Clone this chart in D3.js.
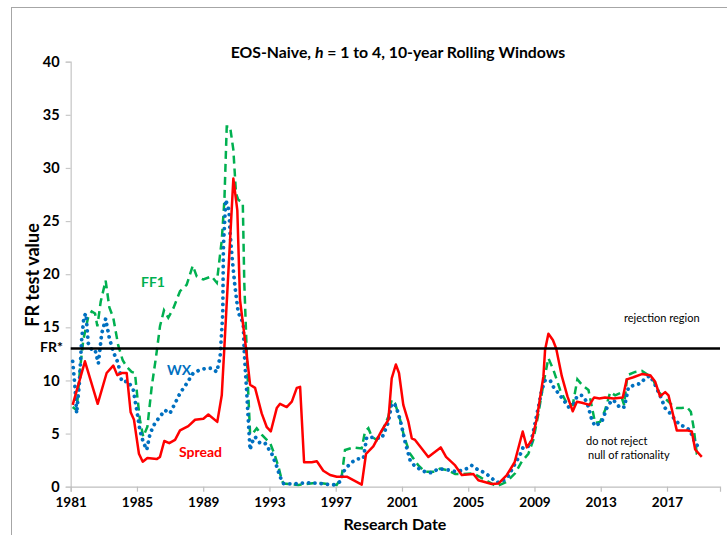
<!DOCTYPE html>
<html>
<head>
<meta charset="utf-8">
<script src="https://cdn.jsdelivr.net/npm/d3@7"></script>
<style>
  html, body { margin: 0; padding: 0; background: #fff; }
  svg { display: block; font-family: Lato, "Open Sans", sans-serif; }
</style>
</head>
<body>
<div id="vis"></div>
<script>
// data: decimal research date -> FR test value
var spreadDates = [1981.12, 1981.86, 1982.63, 1983.17, 1983.57, 1983.81, 1984.08, 1984.38, 1984.62, 1984.82,
  1985.12, 1985.35, 1985.63, 1986.19, 1986.39, 1986.65, 1986.95, 1987.30, 1987.60, 1988.10,
  1988.51, 1989.01, 1989.31, 1989.85, 1990.12, 1990.28, 1990.82, 1991.06, 1991.22, 1991.57,
  1991.83, 1992.13, 1992.53, 1992.84, 1993.08, 1993.44, 1993.64, 1994.04, 1994.35, 1994.65,
  1994.85, 1995.09, 1995.55, 1995.86, 1996.25, 1996.66, 1997.06, 1997.67, 1998.57, 1998.83,
  1999.27, 1999.78, 2000.18, 2000.38, 2000.63, 2000.82, 2001.08, 2001.39, 2001.59, 2001.79,
  2002.59, 2003.34, 2003.66, 2004.21, 2004.61, 2005.31, 2005.61, 2006.42, 2006.82, 2007.33,
  2007.80, 2008.29, 2008.54, 2008.84, 2009.14, 2009.54, 2009.64, 2009.84, 2010.11, 2010.31,
  2010.65, 2010.99, 2011.31, 2011.56, 2011.86, 2012.32, 2012.60, 2012.92, 2013.26, 2013.77,
  2014.33, 2014.57, 2014.97, 2015.48, 2015.98, 2016.28, 2016.58, 2016.89, 2017.09, 2017.59,
  2018.20, 2018.50, 2018.70, 2019.10];
var spreadValues = [7.7, 11.8, 7.8, 10.7, 11.4, 10.5, 10.7, 10.7, 7.0, 6.3,
  3.1, 2.35, 2.7, 2.6, 2.8, 4.3, 4.1, 4.4, 5.3, 5.7,
  6.3, 6.4, 6.8, 6.1, 8.6, 13.2, 29.0, 26.0, 17.6, 13.2,
  9.6, 9.3, 6.9, 5.6, 5.2, 7.4, 7.8, 7.5, 8.0, 9.3,
  9.4, 2.3, 2.3, 2.4, 1.5, 1.1, 0.94, 0.94, 0.2, 3.1,
  3.8, 5.3, 6.3, 10.2, 11.5, 10.7, 7.7, 6.1, 4.55, 4.4,
  2.8, 3.7, 2.8, 2.0, 1.1, 1.2, 0.6, 0.25, 0.3, 1.1,
  2.3, 5.2, 3.7, 4.4, 6.4, 10.4, 12.9, 14.4, 13.8, 13.0,
  10.4, 8.5, 7.1, 8.0, 7.9, 7.7, 8.4, 8.3, 8.4, 8.3,
  8.4, 10.1, 10.3, 10.6, 10.5, 9.9, 8.5, 8.9, 8.6, 5.3,
  5.3, 5.2, 3.5, 2.8];

var ff1Dates = [1981.12, 1981.36, 1981.56, 1981.76, 1982.06, 1982.27, 1982.47, 1982.61, 1982.81, 1983.11,
  1983.33, 1983.57, 1983.87, 1984.14, 1984.38, 1984.68, 1984.88, 1985.02, 1985.18, 1985.38,
  1985.63, 1985.89, 1986.15, 1986.39, 1986.63, 1986.89, 1987.20, 1987.60, 1988.00, 1988.37,
  1988.61, 1989.01, 1989.51, 1989.82, 1990.12, 1990.28, 1990.42, 1990.62, 1990.82, 1990.98,
  1991.12, 1991.39, 1991.48, 1991.63, 1991.72, 1991.83, 1991.93, 1992.23, 1992.53, 1993.04,
  1993.29, 1993.54, 1993.74, 1993.84, 1994.74, 1995.86, 1997.06, 1997.36, 1997.56, 1998.07,
  1998.57, 1998.77, 1998.97, 1999.18, 1999.48, 1999.88, 2000.18, 2000.38, 2000.58, 2000.89,
  2001.13, 2001.49, 2001.99, 2002.40, 2002.90, 2003.30, 2003.71, 2004.21, 2004.71, 2005.31,
  2005.82, 2006.42, 2006.70, 2007.33, 2007.83, 2008.23, 2008.63, 2008.93, 2009.24, 2009.54,
  2009.84, 2010.14, 2010.55, 2010.95, 2011.31, 2011.59, 2011.86, 2012.26, 2012.66, 2012.96,
  2013.26, 2013.57, 2013.87, 2014.17, 2014.41, 2014.61, 2015.08, 2015.48, 2015.88, 2016.18,
  2016.39, 2016.69, 2016.99, 2017.29, 2017.59, 2017.90, 2018.20, 2018.44, 2018.60, 2018.80,
  2019.10];
var ff1Values = [7.5, 7.2, 11.0, 13.8, 16.0, 16.5, 16.3, 15.1, 17.4, 19.4,
  16.9, 15.9, 13.3, 11.9, 11.3, 10.8, 10.7, 8.5, 6.3, 4.7,
  5.65, 9.4, 12.2, 15.1, 16.6, 15.9, 16.8, 18.4, 19.0, 20.8,
  19.8, 19.5, 19.8, 19.2, 23.2, 27.0, 33.9, 33.9, 31.7, 27.6,
  27.0, 26.7, 19.2, 12.6, 8.8, 5.0, 4.9, 5.5, 4.9, 4.1,
  3.1, 1.9, 0.63, 0.3, 0.16, 0.38, 0.16, 0.94, 3.46, 3.7,
  3.6, 5.2, 5.5, 4.7, 4.4, 5.5, 6.6, 8.2, 7.85, 6.3,
  4.7, 3.1, 2.0, 1.4, 1.4, 1.7, 1.57, 1.2, 1.2, 1.26,
  0.8, 0.3, 0.03, 0.47, 1.26, 2.35, 3.1, 4.4, 6.9, 9.7,
  12.1, 11.0, 9.1, 7.85, 7.7, 10.1, 9.6, 9.1, 6.0, 6.1,
  7.2, 8.9, 8.6, 8.8, 7.7, 10.5, 10.8, 10.9, 10.5, 10.05,
  9.1, 8.6, 8.16, 7.7, 7.4, 7.4, 7.5, 7.06, 5.65, 3.1,
  2.9];

var wxDates = [1981.12, 1981.26, 1981.36, 1981.52, 1981.66, 1981.80, 1981.92, 1982.06, 1982.27, 1982.47,
  1982.67, 1982.87, 1983.11, 1983.33, 1983.57, 1983.87, 1984.08, 1984.48, 1984.78, 1984.99,
  1985.18, 1985.38, 1985.59, 1985.79, 1986.09, 1986.39, 1986.69, 1986.99, 1987.30, 1987.60,
  1988.00, 1988.40, 1988.81, 1989.21, 1989.51, 1989.82, 1990.02, 1990.18, 1990.22, 1990.36,
  1990.56, 1990.62, 1990.76, 1990.92, 1991.12, 1991.28, 1991.42, 1991.48, 1991.63, 1991.72,
  1991.83, 1991.93, 1992.13, 1992.43, 1992.73, 1993.14, 1993.44, 1993.64, 1993.84, 1994.44,
  1995.25, 1996.05, 1996.86, 1997.26, 1997.46, 1997.87, 1998.27, 1998.67, 1998.87, 1999.18,
  1999.78, 1999.98, 2000.18, 2000.38, 2000.58, 2000.78, 2000.99, 2001.19, 2001.49, 2001.79,
  2002.40, 2002.80, 2003.20, 2003.80, 2004.31, 2004.91, 2005.21, 2005.61, 2006.02, 2006.31,
  2006.72, 2007.03, 2007.42, 2007.73, 2008.13, 2008.33, 2008.74, 2008.93, 2009.24, 2009.44,
  2009.64, 2009.95, 2010.14, 2010.44, 2010.75, 2011.05, 2011.41, 2011.56, 2011.86, 2012.16,
  2012.46, 2012.66, 2013.06, 2013.37, 2013.67, 2013.87, 2014.17, 2014.43, 2014.67, 2015.08,
  2015.38, 2015.68, 2015.98, 2016.28, 2016.58, 2016.89, 2017.19, 2017.49, 2017.79, 2018.09,
  2018.39, 2018.70, 2019.00];
var wxValues = [11.8, 9.4, 6.9, 9.7, 13.8, 16.0, 16.3, 13.5, 12.9, 12.9,
  11.6, 14.4, 15.8, 14.0, 12.7, 11.6, 9.9, 9.9, 9.1, 7.2,
  5.3, 4.2, 3.46, 5.0, 6.0, 6.6, 7.2, 6.9, 7.85, 8.8,
  9.7, 10.7, 11.0, 11.15, 11.15, 10.8, 12.2, 16.3, 22.6, 27.0,
  26.0, 23.9, 21.3, 18.8, 16.3, 16.0, 15.1, 12.6, 8.8, 6.3,
  3.46, 4.1, 4.7, 4.1, 4.1, 3.1, 1.9, 0.94, 0.3, 0.25,
  0.38, 0.3, 0.16, 0.47, 1.4, 2.2, 2.6, 2.67, 4.65, 4.65,
  4.55, 5.3, 6.1, 7.85, 7.7, 6.9, 5.65, 4.2, 2.5, 1.9,
  1.4, 1.3, 1.7, 1.57, 1.4, 1.7, 2.0, 1.57, 1.3, 0.94,
  0.4, 0.47, 1.0, 1.9, 3.0, 3.77, 3.8, 5.2, 7.5, 9.1,
  10.0, 10.0, 9.4, 8.8, 8.16, 7.5, 7.85, 8.5, 8.6, 8.0,
  6.3, 5.7, 6.1, 7.4, 8.16, 8.0, 7.4, 7.5, 9.36, 9.6,
  9.7, 10.2, 10.45, 9.6, 8.6, 7.4, 6.9, 6.3, 5.8, 5.65,
  5.3, 4.1, 3.6];

var yTicks = [0, 5, 10, 15, 20, 25, 30, 35, 40];
var xTicks = [1981, 1985, 1989, 1993, 1997, 2001, 2005, 2009, 2013, 2017];
var FR_STAR = 13;

(function () {
  'use strict';

  var WIDTH = 727;
  var HEIGHT = 535;
  var LEFT = 70.7;
  var RIGHT = 720;
  var TOP = 61.7;
  var BOTTOM = 486.7;

  var svg = d3.select('#vis').append('svg')
    .attr('width', WIDTH)
    .attr('height', HEIGHT);

  // chart area frame, only the left and top edges fall inside the picture
  svg.append('rect')
    .attr('x', 11.5).attr('y', 7.5)
    .attr('width', 800).attr('height', 600)
    .attr('fill', 'none')
    .attr('stroke', '#a6a6a6')
    .attr('stroke-width', 1);

  var x = d3.scaleLinear().domain([1981, 2020.2]).range([LEFT, RIGHT]);
  var y = d3.scaleLinear().domain([0, 40]).range([BOTTOM, TOP]);

  var yAxis = svg.append('g')
    .attr('transform', 'translate(' + LEFT + ',0)')
    .call(d3.axisLeft(y).tickValues(yTicks).tickSize(5).tickPadding(6));
  yAxis.select('.domain').attr('stroke', '#d0d0d0').attr('stroke-width', 1.5);
  yAxis.selectAll('.tick line').attr('stroke', '#c8c8c8').attr('stroke-width', 1.2);
  yAxis.selectAll('.tick text')
    .attr('fill', '#000')
    .style('font-family', 'Lato, sans-serif')
    .style('font-size', '14.5px')
    .style('font-weight', 'bold');

  var xAxis = svg.append('g')
    .attr('transform', 'translate(0,' + BOTTOM + ')')
    .call(d3.axisBottom(x).tickValues(xTicks).tickFormat(d3.format('d')).tickSize(5).tickPadding(6));
  xAxis.select('.domain').attr('stroke', '#bfbfbf').attr('stroke-width', 1.2);
  xAxis.selectAll('.tick line').attr('stroke', '#bfbfbf').attr('stroke-width', 1.2);
  xAxis.selectAll('.tick text')
    .attr('fill', '#000')
    .style('font-family', 'Lato, sans-serif')
    .style('font-size', '13.5px')
    .style('font-weight', 'bold');

  var line = d3.line()
    .x(function (d) { return x(d[0]); })
    .y(function (d) { return y(d[1]); });

  var zip = function (dates, values) {
    return dates.map(function (d, i) { return [d, values[i]]; });
  };

  svg.append('path')
    .datum(zip(ff1Dates, ff1Values))
    .attr('d', line)
    .attr('fill', 'none')
    .attr('stroke', '#00b050')
    .attr('stroke-width', 2.5)
    .attr('stroke-dasharray', '8,5');

  svg.append('path')
    .datum(zip(wxDates, wxValues))
    .attr('d', line)
    .attr('fill', 'none')
    .attr('stroke', '#0070c0')
    .attr('stroke-width', 3.8)
    .attr('stroke-linecap', 'round')
    .attr('stroke-dasharray', '0.01,6.3');

  svg.append('path')
    .datum(zip(spreadDates, spreadValues))
    .attr('d', line)
    .attr('fill', 'none')
    .attr('stroke', '#ff0000')
    .attr('stroke-width', 2.5)
    .attr('stroke-linejoin', 'round');

  // critical value line
  svg.append('line')
    .attr('x1', LEFT).attr('x2', RIGHT)
    .attr('y1', y(FR_STAR)).attr('y2', y(FR_STAR))
    .attr('stroke', '#000')
    .attr('stroke-width', 2.5);

  var text = function (tx, ty, str, size, weight, fill, anchor) {
    return svg.append('text')
      .attr('x', tx).attr('y', ty)
      .attr('dy', '0.35em')
      .attr('text-anchor', anchor || 'start')
      .attr('fill', fill || '#000')
      .style('font-size', size + 'px')
      .style('font-weight', weight || 'normal')
      .text(str);
  };

  text(63, y(FR_STAR) - 1, 'FR*', 14, 'bold', '#000', 'end');
  text(141, 282, 'FF1', 14, 'bold', '#00b050');
  text(167, 370, 'WX', 14, 'bold', '#0070c0');
  text(179, 452, 'Spread', 14, 'bold', '#ff0000');
  text(624, 318, 'rejection region', 11, 'normal');
  text(586, 441, 'do not reject', 11, 'normal');
  text(588, 455, 'null of rationality', 11, 'normal');

  var title = svg.append('text')
    .attr('x', 398).attr('y', 52)
    .attr('dy', '0.35em')
    .attr('text-anchor', 'middle')
    .style('font-size', '15.8px')
    .style('font-weight', 'bold');
  title.append('tspan').text('EOS-Naive, ');
  title.append('tspan').style('font-style', 'italic').text('h');
  title.append('tspan').text(' = 1 to 4, 10-year Rolling Windows');

  text(395, 524, 'Research Date', 16, 'bold', '#000', 'middle');

  svg.append('text')
    .attr('transform', 'translate(33,275) rotate(-90)')
    .attr('dy', '0.35em')
    .attr('text-anchor', 'middle')
    .style('font-size', '18px')
    .style('font-weight', 'bold')
    .text('FR test value');
})();
</script>
</body>
</html>
